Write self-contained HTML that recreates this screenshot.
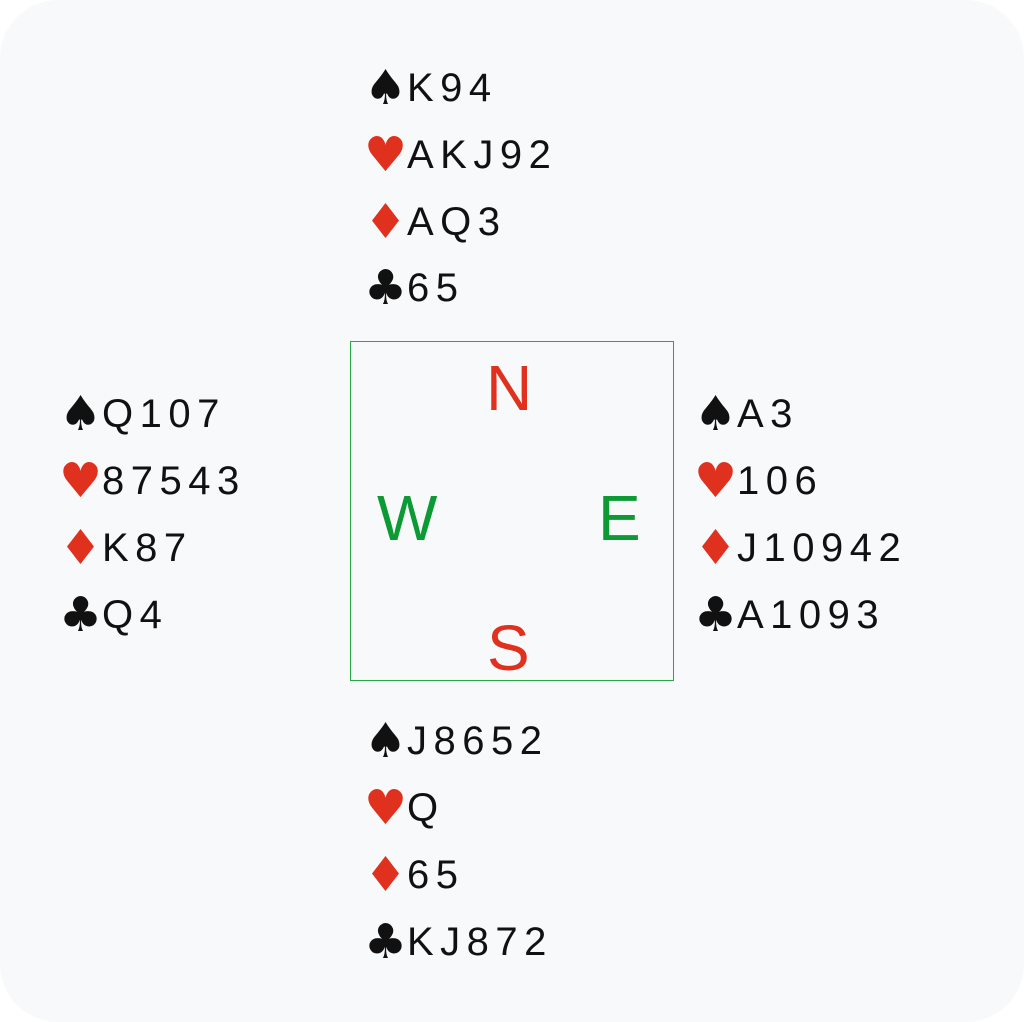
<!DOCTYPE html>
<html><head><meta charset="utf-8"><style>
html,body{margin:0;padding:0;background:#fff;}
#c{position:relative;width:1024px;height:1022px;background:#f8f9fa;border-radius:58px;overflow:hidden;font-family:"Liberation Sans","DejaVu Sans",sans-serif;}
.l{position:absolute;font-size:40px;line-height:40px;height:40px;white-space:nowrap;color:#111;letter-spacing:6.5px;}
.s{display:inline-block;width:41px;font-family:"DejaVu Sans",sans-serif;font-size:48px;line-height:0;letter-spacing:0;margin-left:-2px;margin-right:2px;position:relative;top:3px;}
.r{color:#e0301e;}
.g{color:#0b9a33;}
.big{position:absolute;font-size:64px;line-height:64px;}
#box{position:absolute;left:350px;top:341px;width:322px;height:338px;border:1.5px solid #27a845;}
</style></head><body><div id="c">
<div id="box"></div>
<div class="big r" style="left:486px;top:356px">N</div>
<div class="big g" style="left:377px;top:486px">W</div>
<div class="big g" style="left:598px;top:486px">E</div>
<div class="big r" style="left:487px;top:616px">S</div>

<div class="l" style="left:366px;top:68px"><span class="s">♠</span>K94</div>
<div class="l" style="left:366px;top:135px"><span class="s r">♥</span>AKJ92</div>
<div class="l" style="left:366px;top:202px"><span class="s r">♦</span>AQ3</div>
<div class="l" style="left:366px;top:268px"><span class="s">♣</span>65</div>

<div class="l" style="left:61px;top:394px"><span class="s">♠</span>Q107</div>
<div class="l" style="left:61px;top:461px"><span class="s r">♥</span>87543</div>
<div class="l" style="left:61px;top:528px"><span class="s r">♦</span>K87</div>
<div class="l" style="left:61px;top:595px"><span class="s">♣</span>Q4</div>

<div class="l" style="left:696px;top:394px"><span class="s">♠</span>A3</div>
<div class="l" style="left:696px;top:461px"><span class="s r">♥</span>106</div>
<div class="l" style="left:696px;top:528px"><span class="s r">♦</span>J10942</div>
<div class="l" style="left:696px;top:595px"><span class="s">♣</span>A1093</div>

<div class="l" style="left:366px;top:721px"><span class="s">♠</span>J8652</div>
<div class="l" style="left:366px;top:788px"><span class="s r">♥</span>Q</div>
<div class="l" style="left:366px;top:855px"><span class="s r">♦</span>65</div>
<div class="l" style="left:366px;top:922px"><span class="s">♣</span>KJ872</div>
</div></body></html>
